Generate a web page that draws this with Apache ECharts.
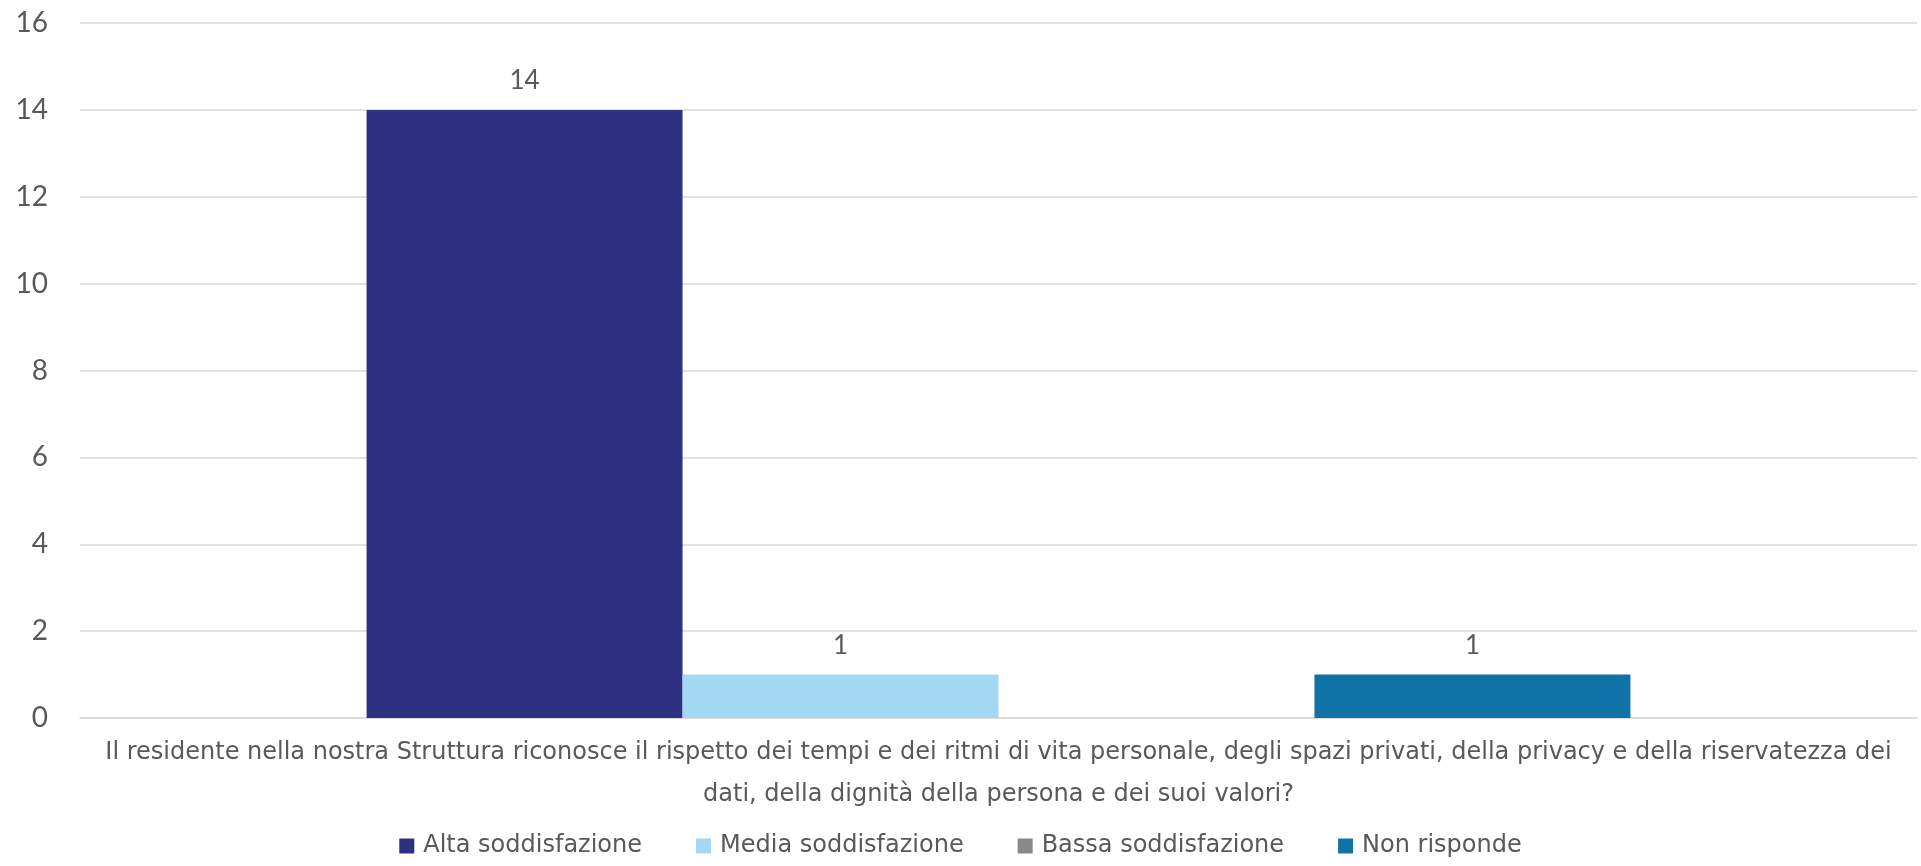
<!DOCTYPE html>
<html>
<head>
<meta charset="utf-8">
<script src="https://cdn.jsdelivr.net/npm/echarts@6/dist/echarts.min.js"></script>
<style>
html,body{margin:0;padding:0;background:#fff;}
#chart{width:1921px;height:866px;}
</style>
</head>
<body>
<div id="chart"></div>
<script>
const categories = ["Il residente nella nostra Struttura riconosce il rispetto dei tempi e dei ritmi di vita personale, degli spazi privati, della privacy e della riservatezza dei\ndati, della dignità della persona e dei suoi valori?"];
const seriesNames = ["Alta soddisfazione", "Media soddisfazione", "Bassa soddisfazione", "Non risponde"];
const altaValues = [14];
const mediaValues = [1];
const bassaValues = [0];
const nonRispondeValues = [1];
const colors = ["#2E3083", "#A3D9F5", "#888888", "#0F73A8"];
const yMin = 0, yMax = 16, yInterval = 2;

const FONT = "Lato";
const WIDE = "DejaVu Sans";
const textColor = "#595959";
const allValues = [altaValues, mediaValues, bassaValues, nonRispondeValues];

const chart = echarts.init(document.getElementById('chart'), null, {renderer: 'canvas'});
chart.setOption({
  animation: false,
  backgroundColor: '#ffffff',
  textStyle: {fontFamily: FONT},
  grid: {left: 80, right: 4, top: 23, bottom: 148, containLabel: false},
  legend: {
    bottom: 3,
    left: 'center',
    itemWidth: 15, itemHeight: 15, itemGap: 54,
    icon: 'rect',
    textStyle: {fontFamily: WIDE, fontSize: 24, color: textColor, padding: [0,0,0,4]},
    data: seriesNames
  },
  xAxis: {
    type: 'category',
    data: categories,
    axisLine: {show: true, lineStyle: {color: '#d9d9d9', width: 1.5}},
    axisTick: {show: false},
    axisLabel: {fontFamily: WIDE, fontSize: 24, color: textColor, lineHeight: 42, margin: 14, interval: 0}
  },
  yAxis: {
    type: 'value',
    min: yMin, max: yMax, interval: yInterval,
    axisLine: {show: false},
    axisTick: {show: false},
    splitLine: {lineStyle: {color: '#d9d9d9', width: 1.5}},
    axisLabel: {fontFamily: FONT, fontSize: 28, color: textColor, margin: 32}
  },
  series: seriesNames.map((name, i) => ({
    name: name,
    type: 'bar',
    data: allValues[i],
    barGap: '0%',
    barCategoryGap: '31.2%',
    itemStyle: {color: colors[i]},
    label: {
      show: true,
      position: 'top',
      distance: 16,
      fontFamily: FONT,
      fontSize: 26,
      color: textColor,
      formatter: p => (p.value === 0 ? '' : String(p.value))
    }
  }))
});
</script>
</body>
</html>
